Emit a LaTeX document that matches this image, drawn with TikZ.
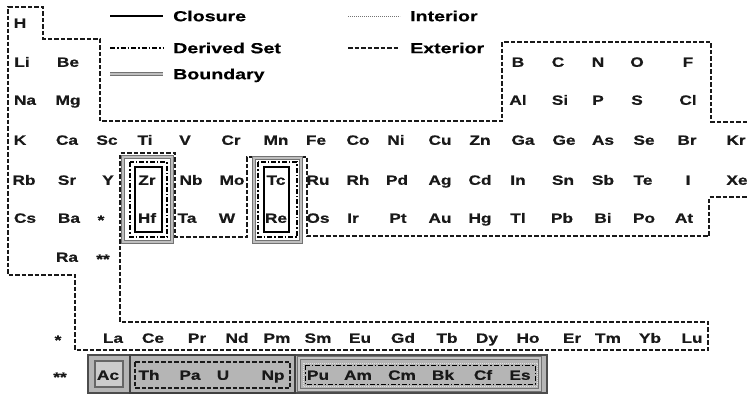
\documentclass[tikz,border=0pt]{standalone}
\usepackage{fontspec}
\setmainfont{Liberation Sans}[FakeStretch=1.28, FakeBold=0.6]
\newfontfamily\legfont{Liberation Sans}[FakeStretch=1.35, FakeBold=0.6]
\begin{document}
\begin{tikzpicture}[x=1pt,y=-1pt,
  el/.style={font=\fontsize{13.5}{13.5}\selectfont\bfseries, inner sep=0pt, text=black!90, anchor=base, yshift=-4.8pt},
  leg/.style={font=\legfont\fontsize{14.5}{14.5}\selectfont\bfseries, anchor=base west, inner sep=0pt, yshift=-5.2pt},
  ext/.style={draw=black!90, line width=1.5pt, dash pattern=on 4.5pt off 2pt},
  clo/.style={draw=black, line width=1.2pt},
  der/.style={draw=black, line width=1.1pt, dash pattern=on 5pt off 2pt on 1.5pt off 2pt},
  bnd/.style={draw=black!55, line width=1pt, double=black!25, double distance=1.1pt},
  intr/.style={draw=black!55, line width=1pt, dash pattern=on 0.8pt off 1.2pt}]
\useasboundingbox (0,0) rectangle (747,394);
\fill[white] (0,0) rectangle (747,394);

% legend
\coordinate (l1a) at (110,16); \coordinate (l1b) at (163,16);
\draw[clo] (l1a) -- (l1b);
\node[leg] (lclo) at (173,16) {Closure};
\coordinate (l2a) at (110,48); \coordinate (l2b) at (163,48);
\draw[der] (l2a) -- (l2b);
\node[leg] (lder) at (173,48) {Derived Set};
\coordinate (l3a) at (110,74); \coordinate (l3b) at (163,74);
\draw[bnd] (l3a) -- (l3b);
\node[leg] (lbnd) at (173,74) {Boundary};
\coordinate (l4a) at (348,16); \coordinate (l4b) at (400,16);
\draw[intr] (l4a) -- (l4b);
\node[leg] (lint) at (410,16) {Interior};
\coordinate (l5a) at (348,48); \coordinate (l5b) at (400,48);
\draw[ext, line width=1.2pt] (l5a) -- (l5b);
\node[leg] (lext) at (410,48) {Exterior};

% exterior outline
\draw[ext] (747,122) -- (711,122) -- (711,42) -- (502,42) -- (502,121) -- (100,121)
  -- (100,39) -- (43,39) -- (43,7) -- (8,7) -- (8,275) -- (75,275) -- (75,350)
  -- (708,350) -- (708,322) -- (120,322) -- (120,153) -- (175,153) -- (175,237)
  -- (247,237) -- (247,157) -- (307,157) -- (307,236) -- (709,236) -- (709,197) -- (747,197);

% Zr / Hf group
\draw[bnd] (123,157) rectangle (172,242);
\draw[der] (130,162) rectangle (167,237);
\draw[intr, draw=white] (132,164) -- (165,164);
\draw[clo] (135,167) rectangle (162,232);
% Tc / Re group
\draw[bnd] (254,158) rectangle (301,242);
\draw[der] (258,162) rectangle (297,237);
\draw[intr, draw=white] (260,164) -- (295,164);
\draw[clo] (264,167) rectangle (289,232);

% actinide block
\draw[fill=gray!58, draw=black!70, line width=1.3pt] (88,355) rectangle (547,393);
\draw[fill=gray!40, draw=black!60, line width=1.1pt] (95,361) rectangle (123,387);
\draw[draw=black!75, line width=1.8pt] (130,355) rectangle (295,393);
\draw[ext, line width=1.1pt] (135,362) rectangle (290,388);
\draw[bnd, double=gray!45] (299,358) rectangle (540,390);
\draw[intr, draw=gray!25] (303,363) rectangle (537,386);
\draw[der, line width=1pt] (305,365) rectangle (535,384);

% elements
\foreach \n/\x/\y in {H/20/23,
  Li/22/62, Be/68/62, B/518/62, C/558/62, N/598/62, O/637/62, F/688/62,
  Na/25/100, Mg/68/100, Al/518/100, Si/560/100, P/598/100, S/637/100, Cl/688/100,
  K/20/140, Ca/67/140, Sc/107/140, Ti/145/140, V/185/140, Cr/231/140, Mn/276/140, Fe/316/140,
  Co/358/140, Ni/396/140, Cu/440/140, Zn/480/140, Ga/523/140, Ge/564/140, As/603/140,
  Se/644/140, Br/687/140, Kr/736/140,
  Rb/24/180, Sr/67/180, Y/108/180, Zr/147/180, Nb/191/180, Mo/232/180, Tc/276/180, Ru/318/180,
  Rh/358/180, Pd/397/180, Ag/440/180, Cd/480/180, In/518/180, Sn/563/180, Sb/603/180,
  Te/643/180, I/688/180, Xe/737/180,
  Cs/25/218, Ba/69/218, Hf/147/218, Ta/187/218, W/227/218, Re/276/218, Os/318/218,
  Ir/353/218, Pt/398/218, Au/440/218, Hg/480/218, Tl/518/218, Pb/562/218, Bi/603/218,
  Po/644/218, At/684/218,
  Ra/67/257,
  La/113/338, Ce/153/338, Pr/197/338, Nd/237/338, Pm/277/338, Sm/318/338, Eu/360/338,
  Gd/403/338, Tb/447/338, Dy/487/338, Ho/528/338, Er/572/338, Tm/608/338, Yb/650/338, Lu/692/338,
  Ac/108/375, Th/149/375, Pa/190/375, U/223/375, Np/273/375,
  Pu/318/375, Am/358/375, Cm/402/375, Bk/443/375, Cf/483/375, Es/520/375}
  \node[el] (e\n) at (\x,\y) {\n};

\node[el, yshift=-2pt] (st1) at (101,218) {*};
\node[el, yshift=-2pt] (st2) at (103,257) {**};
\node[el, yshift=-2pt] (st3) at (58,338) {*};
\node[el, yshift=-2pt] (st4) at (60,375) {**};
\end{tikzpicture}
\end{document}
